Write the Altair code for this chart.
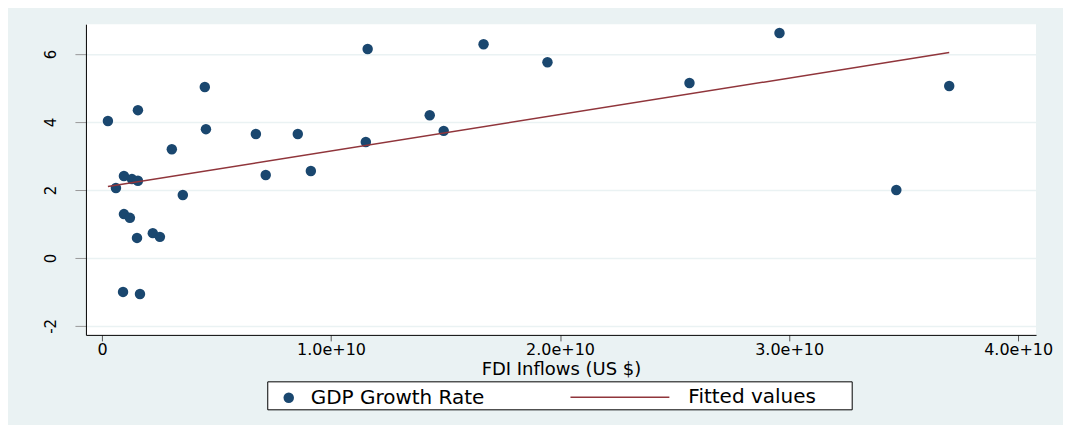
import altair as alt
import pandas as pd

# FDI inflows (US $) and GDP growth rate (%)
fdi = [0.26e9, 0.61e9, 0.96e9, 0.96e9, 1.22e9, 1.31e9, 1.57e9, 1.57e9, 1.53e9,
       0.92e9, 1.66e9, 2.22e9, 2.53e9, 3.05e9, 3.53e9, 4.49e9, 4.54e9, 6.72e9,
       7.15e9, 8.55e9, 9.12e9, 11.52e9, 11.60e9, 14.31e9, 14.92e9, 16.66e9,
       19.45e9, 25.65e9, 29.58e9, 34.68e9, 36.99e9]
gdp = [4.03, 2.06, 2.41, 1.29, 1.18, 2.32, 4.35, 2.27, 0.59,
       -1.00, -1.06, 0.73, 0.62, 3.20, 1.85, 5.03, 3.79, 3.65,
       2.44, 3.65, 2.56, 3.41, 6.15, 4.20, 3.74, 6.29,
       5.76, 5.15, 6.62, 2.00, 5.06]
x_ticks = [0, 1e10, 2e10, 3e10, 4e10]
y_ticks = [-2, 0, 2, 4, 6]
series_names = ["GDP Growth Rate", "Fitted values"]

df = pd.DataFrame({"fdi": fdi, "gdp": gdp, "series": series_names[0]})

FONT = "DejaVu Sans"
NAVY = "#1a476f"
MAROON = "#90353b"

x_enc = alt.X(
    "fdi:Q",
    scale=alt.Scale(domain=[-0.7e9, 40.78e9], nice=False, zero=False),
    axis=alt.Axis(
        values=x_ticks,
        labelExpr="datum.value == 0 ? '0' : format(datum.value / 1e10, '.1f') + 'e+10'",
        title="FDI Inflows (US $)",
        grid=False,
        domainColor="#000000",
        tickColor="#555555",
        tickSize=6,
        labelPadding=1,
        labelFontSize=16,
        labelColor="#000000",
        titleFontSize=18,
        titleFontWeight="normal",
        titleColor="#000000",
        titleY=26,
        titleBaseline="top",
        labelFlush=False,
    ),
)
y_enc = alt.Y(
    "gdp:Q",
    scale=alt.Scale(domain=[-2.265, 6.88], nice=False, zero=False),
    axis=alt.Axis(
        values=y_ticks,
        labelExpr="'' + datum.value",
        title=None,
        grid=True,
        gridColor="#eaf2f3",
        gridWidth=1.5,
        domainColor="#000000",
        tickColor="#999999",
        tickSize=11,
        labelAngle=270,
        labelAlign="center",
        labelBaseline="alphabetic",
        labelPadding=19,
        labelFontSize=15,
        labelColor="#000000",
    ),
)

frame = alt.Chart(alt.Data(values=[{}])).mark_rect(
    fill="white", stroke="#000000", strokeWidth=1
).encode(
    x=alt.value(182), x2=alt.value(767), y=alt.value(358), y2=alt.value(386)
)

points = alt.Chart(df).mark_circle(size=110, opacity=1).encode(
    x=x_enc,
    y=y_enc,
    color=alt.Color(
        "series:N",
        scale=alt.Scale(domain=[series_names[0]], range=[NAVY]),
        legend=alt.Legend(
            title=None,
            orient="none",
            legendX=193,
            legendY=364,
            symbolType="circle",
            symbolSize=110,
            labelOffset=12,
            labelFontSize=20,
            labelLimit=400,
            labelFont=FONT,
            labelColor="#000000",
            padding=0,
            zindex=1,
        ),
    ),
)

fit = alt.Chart(df).transform_regression(
    "fdi", "gdp"
).transform_calculate(
    fitted="'" + series_names[1] + "'"
).mark_line(strokeWidth=1.5).encode(
    x="fdi:Q",
    y="gdp:Q",
    stroke=alt.Stroke(
        "fitted:N",
        scale=alt.Scale(domain=[series_names[1]], range=[MAROON]),
        legend=alt.Legend(
            title=None,
            orient="none",
            legendX=484,
            legendY=323,
            symbolType="stroke",
            symbolSize=9801,
            symbolStrokeWidth=1.5,
            labelOffset=18,
            labelFontSize=20,
            labelLimit=400,
            labelFont=FONT,
            labelColor="#000000",
            padding=0,
            zindex=1,
        ),
    ),
)

chart = alt.layer(frame, points, fit).resolve_scale(
    color="independent", stroke="independent"
).properties(
    width=951,
    height=311,
    background="#eaf2f3",
    padding={"left": 78, "top": 16, "right": 27, "bottom": 90},
    autosize=alt.AutoSizeParams(type="none"),
).configure(
    font=FONT,
).configure_view(
    fill="white", stroke=None
)

chart.save("out.html", embed_options={"renderer": "svg", "actions": False})
